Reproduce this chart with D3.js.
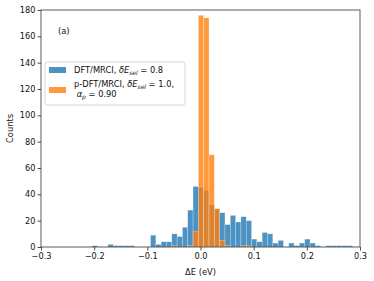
<!DOCTYPE html>
<html>
<head>
<meta charset="utf-8">
<script src="https://cdn.jsdelivr.net/npm/d3@7"></script>
<style>
  body { margin: 0; background: #fff; }
  svg { font-family: "DejaVu Sans", sans-serif; }
</style>
</head>
<body>
<script>
// histogram bins: first left edge and width (eV)
var binStart = -0.204
var binWidth = 0.01

// DFT/MRCI counts per bin
var blueCounts = [1, 0, 0, 2, 1, 1, 1, 1, 0, 0,
                  0, 9, 2, 4, 4, 10, 8, 15, 28, 46,
                  45, 43, 32, 29, 26, 17, 24, 19, 23, 20,
                  6, 4, 11, 10, 3, 5, 0, 3, 1, 3,
                  6, 3, 1, 0, 1, 1, 1, 1, 1]
// p-DFT/MRCI counts per bin
var orangeCounts = [0, 0, 0, 0, 0, 0, 0, 0, 0, 0,
                    0, 0, 0, 0, 0, 1, 0, 0, 1, 12,
                    176, 174, 70, 29, 5, 1, 0, 0, 1, 1,
                    0, 0, 0, 0, 0, 0, 0, 0, 0, 0,
                    0, 0, 0, 0, 0, 0, 0, 0, 0]

var xTicks = [-0.3, -0.2, -0.1, 0.0, 0.1, 0.2, 0.3]
var yTicks = [0, 20, 40, 60, 80, 100, 120, 140, 160, 180]

var margin = {top: 10, right: 14, bottom: 34, left: 41}
var width = 374 - margin.left - margin.right
var height = 281 - margin.top - margin.bottom

var svg = d3.select("body").append("svg")
    .attr("width", 374)
    .attr("height", 281)

var g = svg.append("g")
    .attr("transform", "translate(" + margin.left + "," + margin.top + ")")

var x = d3.scaleLinear().domain([-0.3, 0.3]).range([0, width])
var y = d3.scaleLinear().domain([0, 180]).range([height, 0])

function drawBars(counts, color) {
  g.append("g").selectAll("rect")
      .data(counts)
    .enter().append("rect")
      .attr("x", function(d, i) { return x(binStart + i * binWidth); })
      .attr("width", function(d, i) { return x(binStart + (i + 1) * binWidth) - x(binStart + i * binWidth); })
      .attr("y", function(d) { return y(d); })
      .attr("height", function(d) { return y(0) - y(d); })
      .attr("fill", color)
      .attr("fill-opacity", 0.8)
      .attr("stroke", "#fff")
      .attr("stroke-opacity", 0.5)
      .attr("stroke-width", 0.5)
      .style("display", function(d) { return d > 0 ? null : "none"; })
}

drawBars(blueCounts, "#1f77b4")
drawBars(orangeCounts, "#ff7f0e")

var fmt = function(d) { return d3.format(".1f")(d).replace("-", "\u2212"); }

var xAxis = g.append("g")
    .attr("transform", "translate(0," + height + ")")
    .call(d3.axisBottom(x).tickValues(xTicks).tickFormat(fmt).tickSize(3.5).tickPadding(3))
var yAxis = g.append("g")
    .call(d3.axisLeft(y).tickValues(yTicks).tickSize(3.5).tickPadding(2))

;[xAxis, yAxis].forEach(function(a) {
  a.select(".domain").remove()
  a.selectAll("line").attr("stroke", "#222").attr("stroke-width", 0.8)
  a.selectAll("text").attr("font-size", 8.2).attr("fill", "#111")
    .attr("font-family", "DejaVu Sans")
})

g.append("rect")
    .attr("width", width)
    .attr("height", height)
    .attr("fill", "none")
    .attr("stroke", "#333")
    .attr("stroke-width", 0.8)

svg.append("text")
    .attr("x", margin.left + width / 2)
    .attr("y", 275)
    .attr("text-anchor", "middle")
    .attr("font-size", 8.3)
    .attr("fill", "#111")
    .text("\u0394E (eV)")

svg.append("text")
    .attr("transform", "translate(13," + (margin.top + height / 2) + ") rotate(-90)")
    .attr("text-anchor", "middle")
    .attr("font-size", 8.3)
    .attr("fill", "#111")
    .text("Counts")

svg.append("text")
    .attr("x", 58)
    .attr("y", 34)
    .attr("font-size", 8.3)
    .attr("fill", "#111")
    .text("(a)")

// legend
var leg = svg.append("g").attr("transform", "translate(45,62)")
leg.append("rect")
    .attr("width", 140)
    .attr("height", 43)
    .attr("rx", 2)
    .attr("fill", "#fff")
    .attr("fill-opacity", 0.8)
    .attr("stroke", "#ccc")
    .attr("stroke-width", 0.8)

leg.append("rect").attr("x", 4).attr("y", 5).attr("width", 17).attr("height", 6)
    .attr("fill", "#1f77b4").attr("fill-opacity", 0.8)
leg.append("rect").attr("x", 4).attr("y", 25).attr("width", 17).attr("height", 6)
    .attr("fill", "#ff7f0e").attr("fill-opacity", 0.8)

function mathLine(t, parts) {
  parts.forEach(function(p) {
    var s = t.append("tspan").text(p[0])
    if (p[1]) s.attr("font-style", "italic")
    if (p[2]) s.attr("font-size", 6).attr("dy", p[2])
  })
}

var t1 = leg.append("text").attr("x", 29).attr("y", 11).attr("font-size", 8.3).attr("fill", "#111")
mathLine(t1, [["DFT/MRCI, "], ["\u03b4E", true], ["sel", true, 2], [" = 0.8", false, -2]])
t1.selectAll("tspan").filter(function(d, i) { return i === 3; }).attr("font-size", 8.3)

var t2 = leg.append("text").attr("x", 29).attr("y", 25).attr("font-size", 8.3).attr("fill", "#111")
mathLine(t2, [["p-DFT/MRCI, "], ["\u03b4E", true], ["sel", true, 2], [" = 1.0,", false, -2]])
t2.selectAll("tspan").filter(function(d, i) { return i === 3; }).attr("font-size", 8.3)

var t3 = leg.append("text").attr("x", 29).attr("y", 35).attr("font-size", 8.3).attr("fill", "#111")
mathLine(t3, [["\u00a0\u03b1", true], ["p", true, 2], [" = 0.90", false, -2]])
t3.selectAll("tspan").filter(function(d, i) { return i === 2; }).attr("font-size", 8.3)
</script>
</body>
</html>
